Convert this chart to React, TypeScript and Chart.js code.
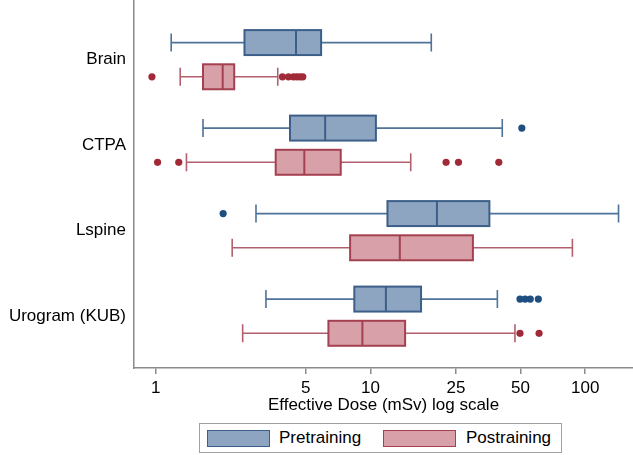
import React, { useEffect, useRef } from "react";
import { Chart, registerables } from "chart.js";

Chart.register(...registerables);

// ---------- data ----------
const categories = ["Brain", "CTPA", "Lspine", "Urogram (KUB)"];
const xTickValues = [1, 5, 10, 25, 50, 100];

const preLow = [1.18, 1.66, 2.93, 3.26];
const preQ1 = [2.59, 4.22, 12.0, 8.41];
const preMedian = [4.5, 6.15, 20.4, 11.8];
const preQ3 = [5.89, 10.6, 35.8, 17.2];
const preHigh = [19.2, 41.1, 143, 39.0];
const preOutliers: number[][] = [[], [50.7], [2.06], [49.7, 52.5, 55.5, 60.5]];

const postLow = [1.3, 1.39, 2.27, 2.54];
const postQ1 = [1.66, 3.62, 8.04, 6.37];
const postMedian = [2.05, 4.92, 13.7, 9.17];
const postQ3 = [2.32, 7.27, 30.0, 14.5];
const postHigh = [3.7, 15.4, 87.2, 47.1];
const postOutliers: number[][] = [
  [0.96, 3.89, 4.15, 4.38, 4.54, 4.7, 4.84],
  [1.02, 1.28, 22.5, 25.7, 39.6],
  [],
  [49.7, 61],
];

// ---------- styling ----------
const FONT = "'Liberation Sans', Arial, Helvetica, sans-serif";
const AXIS_GREY = "#8a8a8a";
const BOX_HALF = 0.146;
const CAP_HALF = 0.105;

const series = [
  {
    label: "Pretraining",
    offset: -0.2,
    low: preLow, q1: preQ1, med: preMedian, q3: preQ3, high: preHigh, out: preOutliers,
    fill: "#8ea5c1", stroke: "#3c5f89", whisker: "#4f7298", dot: "#1f4e80",
  },
  {
    label: "Postraining",
    offset: 0.2,
    low: postLow, q1: postQ1, med: postMedian, q3: postQ3, high: postHigh, out: postOutliers,
    fill: "#d8a1a9", stroke: "#a4404f", whisker: "#b2606d", dot: "#a02a38",
  },
];

const boxPlotPlugin = {
  id: "boxPlotDraw",
  beforeDatasetsDraw(chart: any) {
    const ctx = chart.ctx;
    const xs = chart.scales.x;
    const ys = chart.scales.y;
    ctx.save();
    series.forEach((s) => {
      categories.forEach((_, i) => {
        const c = i + s.offset;
        const y = ys.getPixelForValue(c);
        const yb1 = ys.getPixelForValue(c - BOX_HALF);
        const yb2 = ys.getPixelForValue(c + BOX_HALF);
        const yc1 = ys.getPixelForValue(c - CAP_HALF);
        const yc2 = ys.getPixelForValue(c + CAP_HALF);
        const xl = xs.getPixelForValue(s.low[i]);
        const x1 = xs.getPixelForValue(s.q1[i]);
        const xm = xs.getPixelForValue(s.med[i]);
        const x3 = xs.getPixelForValue(s.q3[i]);
        const xh = xs.getPixelForValue(s.high[i]);

        // whiskers
        ctx.strokeStyle = s.whisker;
        ctx.lineWidth = 1.6;
        ctx.beginPath();
        ctx.moveTo(xl, y);
        ctx.lineTo(x1, y);
        ctx.moveTo(x3, y);
        ctx.lineTo(xh, y);
        ctx.moveTo(xl, yc1);
        ctx.lineTo(xl, yc2);
        ctx.moveTo(xh, yc1);
        ctx.lineTo(xh, yc2);
        ctx.stroke();

        // box
        const top = Math.min(yb1, yb2);
        const h = Math.abs(yb2 - yb1);
        ctx.fillStyle = s.fill;
        ctx.fillRect(x1, top, x3 - x1, h);
        ctx.strokeStyle = s.stroke;
        ctx.lineWidth = 2;
        ctx.strokeRect(x1, top, x3 - x1, h);

        // median
        ctx.beginPath();
        ctx.moveTo(xm, top);
        ctx.lineTo(xm, top + h);
        ctx.stroke();
      });
    });
    ctx.restore();
  },
};

export default function App() {
  const canvasRef = useRef<HTMLCanvasElement | null>(null);

  useEffect(() => {
    if (!canvasRef.current) return;
    const datasets = series.map((s) => ({
      label: s.label,
      data: s.out.flatMap((vals, i) => vals.map((v) => ({ x: v, y: i + s.offset }))),
      backgroundColor: s.dot,
      borderColor: s.dot,
      borderWidth: 0,
      pointRadius: 3.6,
      pointHoverRadius: 3.6,
    }));

    const chart = new Chart(canvasRef.current, {
      type: "scatter",
      data: { datasets },
      options: {
        animation: false,
        responsive: false,
        layout: { autoPadding: false, padding: { left: 0, right: 0, top: 0, bottom: 37 } },
        plugins: { legend: { display: false }, tooltip: { enabled: false } },
        scales: {
          x: {
            type: "logarithmic",
            position: "bottom",
            min: 0.792,
            max: 167,
            afterBuildTicks: (s: any) => {
              s.ticks = xTickValues.map((v) => ({ value: v }));
            },
            afterFit: (s: any) => {
              s.height = 50;
              s.paddingLeft = 0;
              s.paddingRight = 0;
            },
            ticks: {
              callback: (v: any) => String(v),
              font: { size: 17, family: FONT },
              color: "#000",
              padding: 4,
              autoSkip: false,
              maxRotation: 0,
            },
            grid: {
              display: true,
              drawOnChartArea: false,
              drawTicks: true,
              tickLength: 6,
              color: AXIS_GREY,
              lineWidth: 1.5,
            },
            border: { display: true, color: AXIS_GREY, width: 1.5 },
            title: {
              display: true,
              text: "Effective Dose (mSv) log scale",
              font: { size: 17, family: FONT },
              color: "#000",
              padding: { top: 0, bottom: 2 },
            },
          },
          y: {
            type: "linear",
            reverse: true,
            min: -0.698,
            max: 3.606,
            afterBuildTicks: (s: any) => {
              s.ticks = categories.map((_, i) => ({ value: i }));
            },
            afterFit: (s: any) => {
              s.width = 134;
              s.paddingTop = 0;
              s.paddingBottom = 0;
            },
            ticks: {
              callback: (v: any) => categories[v] ?? "",
              font: { size: 17, family: FONT },
              color: "#000",
              padding: 8,
              autoSkip: false,
            },
            grid: { display: false, drawTicks: false },
            border: { display: true, color: AXIS_GREY, width: 1.5 },
          },
        },
      },
      plugins: [boxPlotPlugin],
    } as any);
    return () => chart.destroy();
  }, []);

  const swatch = (left: number, width: number, fill: string, stroke: string) => ({
    position: "absolute" as const,
    left,
    top: 6,
    width,
    height: 17,
    boxSizing: "border-box" as const,
    background: fill,
    border: `1.5px solid ${stroke}`,
  });
  const label = (left: number) => ({
    position: "absolute" as const,
    left,
    top: 4,
    fontFamily: FONT,
    fontSize: 17,
    lineHeight: "20px",
    color: "#000",
    whiteSpace: "nowrap" as const,
  });

  return (
    <div style={{ position: "absolute", left: 0, top: 0, width: 633, height: 455, background: "#fff" }}>
      <canvas ref={canvasRef} width={633} height={455} style={{ display: "block" }} />
      <div
        style={{
          position: "absolute",
          left: 199,
          top: 423,
          width: 363,
          height: 30,
          boxSizing: "border-box",
          border: "1px solid #a0a0a0",
          background: "#fff",
        }}
      >
        <div style={swatch(7, 63, series[0].fill, series[0].stroke)} />
        <span style={label(79)}>{series[0].label}</span>
        <div style={swatch(183, 73, series[1].fill, series[1].stroke)} />
        <span style={label(266)}>{series[1].label}</span>
      </div>
    </div>
  );
}
